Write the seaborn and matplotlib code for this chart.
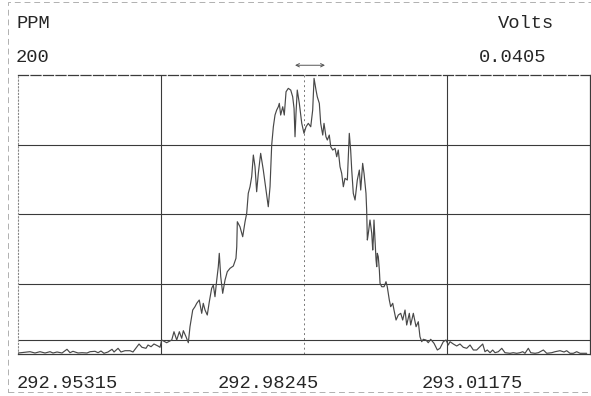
import numpy as np
import pandas as pd
import seaborn as sns
from matplotlib import pyplot as plt
import matplotlib.patches as patches

# scan readings (mass in u, signal in ppm)
mass = [292.95318, 292.95438, 292.95489, 292.95540, 292.95592, 292.95643, 292.95674, 292.95715,
        292.95766, 292.95817, 292.95848, 292.95878, 292.95930, 292.95971, 292.96022, 292.96053,
        292.96104, 292.96135, 292.96165, 292.96196, 292.96237, 292.96278, 292.96299, 292.96340,
        292.96370, 292.96411, 292.96462, 292.96493, 292.96514, 292.96555, 292.96585, 292.96626,
        292.96647, 292.96678, 292.96708, 292.96749, 292.96770, 292.96787, 292.96838, 292.96890,
        292.96913, 292.96941, 292.96968, 292.96992, 292.97009, 292.97036, 292.97060, 292.97077,
        292.97105, 292.97128, 292.97146, 292.97172, 292.97197, 292.97213, 292.97231, 292.97254,
        292.97275, 292.97299, 292.97316, 292.97333, 292.97351, 292.97367, 292.97377, 292.97392,
        292.97412, 292.97436, 292.97459, 292.97487, 292.97521, 292.97548, 292.97556, 292.97562,
        292.97589, 292.97617, 292.97641, 292.97658, 292.97674, 292.97692, 292.97709, 292.97726,
        292.97743, 292.97760, 292.97777, 292.97801, 292.97828, 292.97856, 292.97879, 292.97897,
        292.97914, 292.97931, 292.97948, 292.97965, 292.97982, 292.97992, 292.98006, 292.98027,
        292.98043, 292.98061, 292.98084, 292.98109, 292.98129, 292.98143, 292.98153, 292.98163,
        292.98176, 292.98197, 292.98222, 292.98245, 292.98266, 292.98289, 292.98314, 292.98334,
        292.98348, 292.98368, 292.98381, 292.98402, 292.98416, 292.98437, 292.98450, 292.98470,
        292.98484, 292.98504, 292.98519, 292.98539, 292.98563, 292.98580, 292.98596, 292.98614,
        292.98631, 292.98648, 292.98665, 292.98689, 292.98709, 292.98723, 292.98734, 292.98750,
        292.98768, 292.98791, 292.98812, 292.98826, 292.98846, 292.98860, 292.98880, 292.98887,
        292.98894, 292.98904, 292.98921, 292.98939, 292.98949, 292.98955, 292.98962, 292.98972,
        292.98983, 292.98990, 292.98996, 292.99006, 292.99017, 292.99024, 292.99041, 292.99065,
        292.99085, 292.99098, 292.99119, 292.99133, 292.99154, 292.99167, 292.99188, 292.99211,
        292.99236, 292.99256, 292.99280, 292.99297, 292.99324, 292.99338, 292.99365, 292.99393,
        292.99416, 292.99433, 292.99451, 292.99467, 292.99495, 292.99518, 292.99543, 292.99577,
        292.99611, 292.99638, 292.99672, 292.99700, 292.99723, 292.99741, 292.99775, 292.99809,
        292.99843, 292.99877, 292.99912, 292.99946, 292.99980, 293.00014, 293.00048, 293.00076,
        293.00099, 293.00123, 293.00151, 293.00178, 293.00202, 293.00236, 293.00271, 293.00304,
        293.00356, 293.00389, 293.00424, 293.00458, 293.00486, 293.00509, 293.00543, 293.00568,
        293.00612, 293.00646, 293.00697, 293.00732, 293.00783, 293.00817, 293.00868, 293.00909,
        293.00936, 293.00970, 293.01004, 293.01039, 293.01073, 293.01141]
ppm = [0.36, 1.29, 0.36, 1.29, 0.36, 1.29, 0.36, 1.08,
       0.36, 3.02, 0.57, 1.58, 0.36, 0.57, 0.36, 1.29,
       1.58, 0.57, 1.80, 0.14, 1.08, 3.02, 1.08, 3.73,
       1.08, 2.01, 2.01, 1.08, 3.02, 6.82, 4.45, 3.73,
       6.10, 4.88, 6.82, 5.39, 4.45, 9.69, 7.75, 9.69,
       15.65, 9.69, 15.65, 10.91, 16.37, 12.06, 7.75, 19.24,
       31.23, 33.60, 36.04, 38.41, 28.86, 36.04, 31.23, 27.64,
       37.19, 46.81, 49.18, 40.78, 52.77, 62.32, 71.94, 55.14,
       43.22, 52.77, 58.73, 61.17, 62.83, 68.35, 76.68, 94.63,
       91.04, 83.86, 94.63, 100.66, 115.02, 119.76, 126.94, 142.52,
       134.12, 116.17, 129.38, 143.74, 131.75, 117.39, 105.40, 119.76,
       149.70, 162.84, 171.24, 174.83, 177.20, 179.64, 171.24, 177.20,
       171.24, 187.97, 190.41, 189.19, 184.38, 176.05, 155.66, 172.46,
       189.19, 179.64, 165.28, 158.10, 162.84, 165.28, 162.84, 174.83,
       197.59, 189.19, 184.38, 179.64, 165.28, 156.88, 165.28, 155.66,
       153.29, 156.88, 148.48, 146.11, 147.33, 141.30, 146.11, 134.12,
       129.38, 119.76, 125.79, 124.57, 158.10, 146.11, 131.75, 115.02,
       110.21, 124.57, 131.75, 117.39, 136.56, 129.38, 115.02, 103.03,
       81.49, 86.30, 95.85, 86.30, 74.31, 81.49, 95.85, 81.49,
       67.13, 62.32, 71.94, 69.50, 59.95, 50.40, 47.96, 47.96,
       51.55, 47.96, 38.41, 33.60, 36.04, 31.23, 24.05, 27.64,
       28.86, 24.05, 31.23, 20.46, 28.86, 20.46, 28.86, 19.24,
       22.83, 12.06, 8.47, 10.20, 9.69, 7.75, 10.20, 7.32,
       2.51, 3.73, 8.47, 9.69, 6.10, 8.47, 6.82, 5.39,
       6.82, 4.45, 3.73, 6.10, 2.51, 2.51, 4.88, 6.82,
       1.29, 2.51, 0.57, 2.51, 0.57, 1.29, 3.73, 0.57,
       0.14, 0.57, 0.14, 0.57, 1.29, 0.14, 3.73, 0.57,
       0.14, 0.57, 2.51, 0.14, 0.57, 1.29, 2.01, 1.08,
       2.01, 0.14, 0.14, 1.29, 0.14, 0.14]

mass_start, mass_center, mass_end = 292.95315, 292.98245, 293.01175
mass_grid = [292.96780, 292.98245, 292.99710]
ppm_full_scale = 200
volts_full_scale = "0.0405"
ppm_grid = [50, 100, 150]
ppm_threshold = 10
window = [292.98153, 292.98460]   # small <-> marker above the peak
x_labels = ["292.95315", "292.98245", "293.01175"]

df = pd.DataFrame({"mass": mass, "ppm": ppm})

sns.set_style("white")
plt.rcParams['font.family'] = ['Liberation Mono', 'DejaVu Sans Mono']

fig = plt.figure(figsize=(5.91, 3.96), dpi=100)
ax = fig.add_axes([18 / 591, 1 - 353.5 / 396, 572 / 591, 278.5 / 396])

grid_c = '#3a3a3a'
for m in mass_grid:
    if m == mass_center:
        ax.axvline(m, color='#777777', lw=0.7, ls=(0, (2, 3)), zorder=1)
    else:
        ax.axvline(m, color=grid_c, lw=0.8, zorder=1)
for p in ppm_grid:
    ax.axhline(p, color=grid_c, lw=0.8, zorder=1)
ax.axhline(ppm_threshold, color=grid_c, lw=0.8, zorder=1)

sns.lineplot(data=df, x="mass", y="ppm", ax=ax, color='#484848', lw=0.85, zorder=3)

ax.set_xlim(mass_start, mass_end)
ax.set_ylim(0, ppm_full_scale)
ax.set_xticks([])
ax.set_yticks([])
ax.set_xlabel("")
ax.set_ylabel("")
for side in ['top', 'bottom', 'right']:
    ax.spines[side].set_color(grid_c)
    ax.spines[side].set_linewidth(0.9)
ax.spines['top'].set_linestyle((0, (8, 2)))
ax.spines['left'].set_color('#888888')
ax.spines['left'].set_linewidth(0.8)
ax.spines['left'].set_linestyle((0, (1, 2)))

# arrow marker above the peak
ax.annotate("", xy=(window[1], 1.035), xytext=(window[0], 1.035),
            xycoords=('data', 'axes fraction'), textcoords=('data', 'axes fraction'),
            arrowprops=dict(arrowstyle='<->', color='#555555', lw=0.7,
                            shrinkA=0, shrinkB=0, mutation_scale=6),
            annotation_clip=False)

fs = 13.5
tc = '#262626'
fig.text(17 / 591, 1 - 28 / 396, "PPM", fontsize=fs, color=tc, ha='left', va='baseline')
fig.text(16 / 591, 1 - 62 / 396, str(ppm_full_scale), fontsize=fs, color=tc, ha='left', va='baseline')
fig.text(554 / 591, 1 - 28 / 396, "Volts", fontsize=fs, color=tc, ha='right', va='baseline')
fig.text(546 / 591, 1 - 62 / 396, volts_full_scale, fontsize=fs, color=tc, ha='right', va='baseline')
for lab, xs in zip(x_labels, [17, 218, 422]):
    fig.text(xs / 591, 1 - 388 / 396, lab, fontsize=fs, color=tc, ha='left', va='baseline')

# faint outer frame from the printout
fig.patches.append(
    patches.Rectangle(
        (8 / 591, 4 / 396), 584 / 591, 390 / 396,
        transform=fig.transFigure,
        facecolor='none',
        edgecolor='#b0b0b0',
        linewidth=0.7,
        linestyle=(0, (6, 4)),
        zorder=0
    )
)

fig.savefig("out.png", dpi=100, facecolor='white')
